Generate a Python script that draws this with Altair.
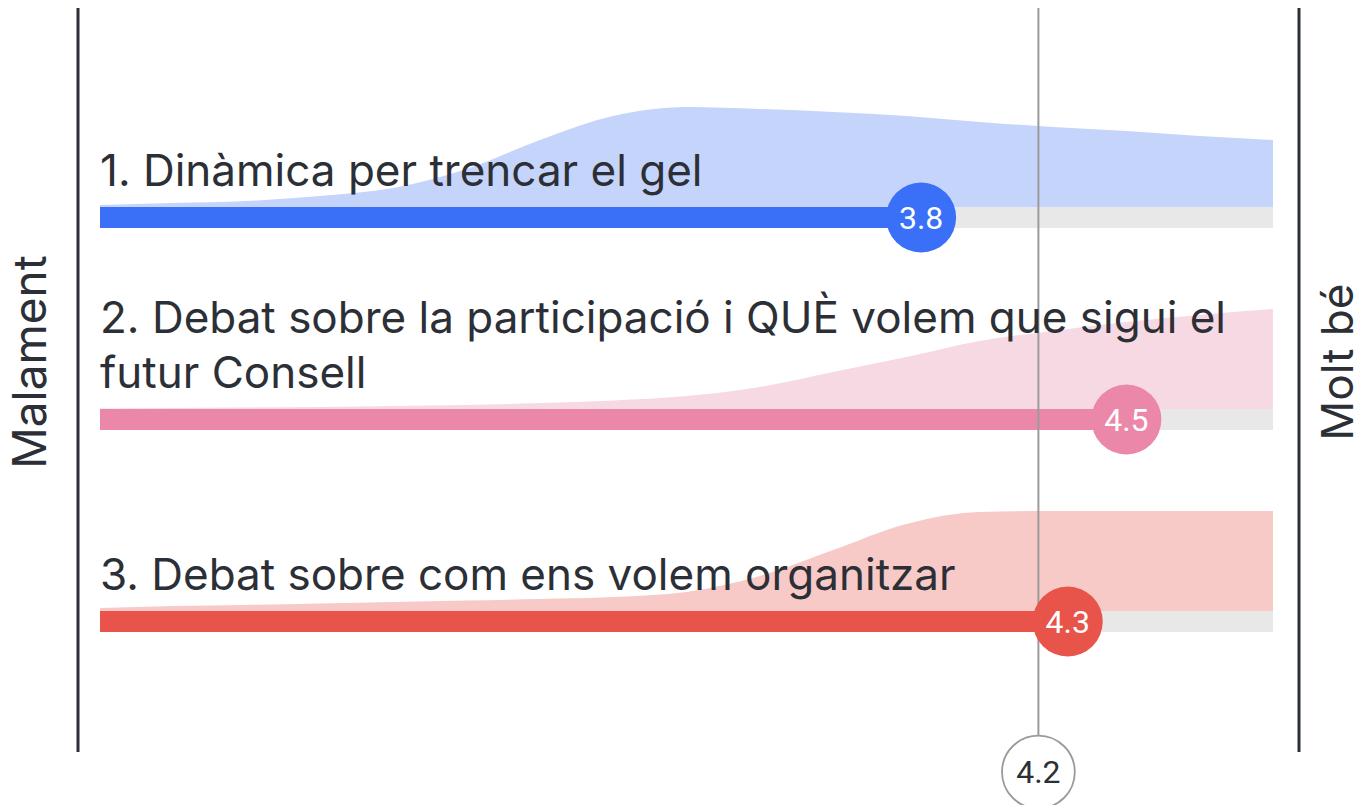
import altair as alt
import pandas as pd

# ---------------- data ----------------
categories = [
    "1. Dinàmica per trencar el gel",
    "2. Debat sobre la participació i QUÈ volem que sigui el\nfutur Consell",
    "3. Debat sobre com ens volem organitzar",
]
row_index = [1, 2, 3]
scores = [3.8, 4.5, 4.3]
overall_score = [4.2]
scale_ends = ["Malament", "Molt bé"]

# response-distribution curves (relative height, 0-100) on a 1..5 grid
grid = [1.0, 1.25, 1.5, 1.75, 2.0, 2.25, 2.5, 2.75, 3.0, 3.25, 3.5, 3.75, 4.0, 4.25, 4.5, 4.75, 5.0]
dens_1 = [2, 4, 6, 11, 19, 38, 67, 91, 100, 98, 95, 91, 85, 80, 76, 71, 67]
dens_2 = [0.5, 1, 1.5, 2, 3, 4, 6, 8.5, 13, 22, 37, 52, 68, 78, 87, 94, 100]
dens_3 = [3, 5, 6, 7.5, 9, 10.5, 12, 14, 19, 35, 61, 87, 99, 100, 100, 100, 100]

bar_colors = ["#3a6ff7", "#eb87a8", "#e8534a"]
area_colors = ["#c4d4fa", "#f7d9e3", "#f7c9c7"]
track_color = "#e8e8e8"
text_color = "#2c2f36"

# ---------------- tables ----------------
ROW_UNIT = 202.0
BAR_H = 21 / ROW_UNIT
AREA_H = 100 / ROW_UNIT
LINE_H = 55 / ROW_UNIT

rows = pd.DataFrame({
    "cat": categories,
    "row": row_index,
    "score": scores,
})
rows["lo"] = 1.0
rows["hi"] = 5.0
rows["bot"] = rows["row"] + BAR_H
rows["mid"] = rows["row"] + BAR_H / 2
rows["label"] = [f"{s:.1f}" for s in scores]

# title lines: the last line sits just above the bar, earlier lines stack upwards
line_recs = []
for cat, r in zip(categories, row_index):
    parts = cat.split("\n")
    n = len(parts)
    for i, p in enumerate(parts):
        line_recs.append({"cat": cat, "line": p, "lo": 1.0, "ypos": r - (n - 1 - i) * LINE_H})
title_lines = pd.DataFrame(line_recs)

area_parts = []
for cat, r, dens in zip(categories, row_index, [dens_1, dens_2, dens_3]):
    area_parts.append(pd.DataFrame({
        "cat": cat, "row": r, "v": grid, "dens": dens,
    }))
areas = pd.concat(area_parts, ignore_index=True)
areas["top"] = areas["row"] - areas["dens"] / 100 * AREA_H

overall = pd.DataFrame({"overall": overall_score, "label": [f"{v:.1f}" for v in overall_score]})
ends_left = pd.DataFrame({"t": [scale_ends[0]]})
ends_right = pd.DataFrame({"t": [scale_ends[1]]})
frame = pd.DataFrame({"k": [0]})

# ---------------- scales ----------------
xs = alt.Scale(domain=[1, 5], range=[100, 1273], nice=False, zero=False)
ys = alt.Scale(domain=[0, 4], range=[5, 5 + 4 * ROW_UNIT], nice=False, zero=False)
X = lambda f: alt.X(f, scale=xs, axis=None)
Y = lambda f: alt.Y(f, scale=ys, axis=None)

area_col = alt.Color("cat:N", scale=alt.Scale(domain=categories, range=area_colors), legend=None)
bar_col = alt.Color("cat:N", scale=alt.Scale(domain=categories, range=bar_colors), legend=None)

area_layer = alt.Chart(areas).mark_area(interpolate="monotone").encode(
    x=X("v:Q"), y=Y("top:Q"), y2="row:Q", color=area_col, detail="cat:N"
)

track_layer = alt.Chart(rows).mark_rect(color=track_color).encode(
    x=X("lo:Q"), x2="hi:Q", y=Y("row:Q"), y2="bot:Q"
)

bar_layer = alt.Chart(rows).mark_rect().encode(
    x=X("lo:Q"), x2="score:Q", y=Y("row:Q"), y2="bot:Q", color=bar_col
)

overall_line = alt.Chart(overall).mark_rule(color="#9b9b9b", strokeWidth=2).encode(
    x=X("overall:Q"), y=alt.value(8), y2=alt.value(770)
)

title_layer = alt.Chart(title_lines).mark_text(
    align="left", baseline="alphabetic", font="Inter",
    fontSize=44, color=text_color, dy=-21
).encode(x=X("lo:Q"), y=Y("ypos:Q"), text="line:N")

circle_layer = alt.Chart(rows).mark_circle(size=4900, opacity=1).encode(
    x=X("score:Q"), y=Y("mid:Q"), color=bar_col
)

circle_text = alt.Chart(rows).mark_text(
    font="Roboto", fontSize=32, color="white", align="center", baseline="middle", dy=1
).encode(x=X("score:Q"), y=Y("mid:Q"), text="label:N")

overall_circle = alt.Chart(overall).mark_point(
    shape="circle", size=5300, filled=True, fill="white", stroke="#9b9b9b",
    strokeWidth=1.8, opacity=1
).encode(x=X("overall:Q"), y=alt.value(772))

overall_text = alt.Chart(overall).mark_text(
    font="Roboto", fontSize=32, color=text_color, align="center", baseline="middle", dy=1
).encode(x=X("overall:Q"), y=alt.value(772), text="label:N")

left_rule = alt.Chart(frame).mark_rule(color="#2d3038", strokeWidth=3).encode(
    x=alt.value(78), y=alt.value(8), y2=alt.value(752)
)
right_rule = alt.Chart(frame).mark_rule(color="#2d3038", strokeWidth=3).encode(
    x=alt.value(1299), y=alt.value(8), y2=alt.value(752)
)

left_label = alt.Chart(ends_left).mark_text(
    angle=270, font="Inter", fontSize=46, color=text_color, align="center", baseline="middle"
).encode(x=alt.value(32), y=alt.value(362), text="t:N")
right_label = alt.Chart(ends_right).mark_text(
    angle=270, font="Inter", fontSize=44, color=text_color, align="center", baseline="middle"
).encode(x=alt.value(1340), y=alt.value(362), text="t:N")

chart = alt.layer(
    area_layer, track_layer, bar_layer, overall_line, title_layer,
    circle_layer, circle_text, left_rule, right_rule, left_label, right_label,
    overall_circle, overall_text,
).resolve_scale(color="independent").properties(
    width=1364, height=805, autosize=alt.AutoSizeParams(type="none"), padding=0,
    background="white"
).configure_view(stroke=None)

chart.save("out.html", embed_options={"renderer": "svg", "actions": False})
